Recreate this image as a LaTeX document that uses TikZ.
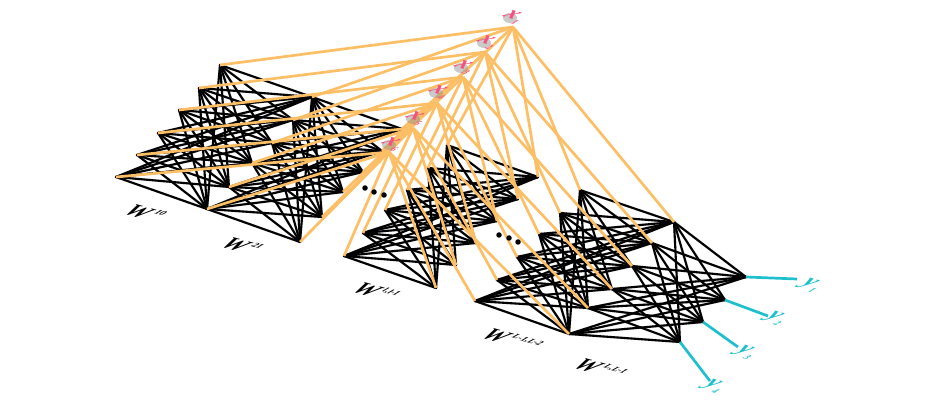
\documentclass[tikz,border=0pt]{standalone}
\usepackage{fontspec}
\setmainfont{Liberation Serif}
\definecolor{skip}{HTML}{FDBF66}
\definecolor{inp}{HTML}{F4527F}
\definecolor{outp}{HTML}{1FC0CE}
\definecolor{halo}{HTML}{8A8A8A}
\newcommand{\tinysc}[1]{\kern2.5pt\raisebox{.45em}{\fontsize{9}{9}\selectfont #1}}
\newcommand{\tinysb}[1]{\kern1.5pt\raisebox{-.25em}{\fontsize{9}{9}\selectfont #1}}
\tikzset{
  nd/.style={inner sep=0pt,minimum size=0pt,outer sep=0pt},
  edgeb/.style={black,line width=2.1pt,line cap=round},
  edgeh/.style={halo,line width=2.6pt,line cap=round,opacity=.3},
  skipl/.style={skip,line width=2.7pt},
  outl/.style={outp,line width=2.7pt},
  laba/.style={inner sep=0pt,transform shape,cm={1,-.28,.85,.62,(0,0)},font=\bfseries\itshape\fontsize{23}{23}\selectfont},
  dotn/.style={circle,fill=black,inner sep=0pt,minimum size=5.5pt},
  glow/.style={fill=halo,opacity=.45,draw=none},
}
\begin{document}
\begin{tikzpicture}[x=1pt,y=-1pt]
\useasboundingbox (0,0) rectangle (937,403);
% input nodes
\foreach \i/\x/\y in {6/513/27,5/485/52,4/463/77,3/437/103,2/413/128,1/389/152}
  \node[nd] (x\i) at (\x,\y) {};
% layers
\foreach \l/\pts in {
 a/{6/220/65,5/199/88,4/179/110,3/158/133,2/137/155,1/116/177},
 b/{6/312/97,5/293/120,4/272/143,3/252/163,2/229/187,1/207/209},
 c/{6/402/129,5/382/151,4/363/172,3/343/192,2/322/217,1/300/242},
 d/{6/447/145,5/428/168,4/407/190,3/385/210,2/363/233,1/344/256},
 e/{6/538/177,5/518/199,4/497/221,3/476/243,2/456/265,1/436/288},
 f/{6/580/190,5/560/213,4/539/234,3/517/257,2/497/280,1/475/301},
 g/{6/674/222,5/652/243,4/632/266,3/612/289,2/588/308,1/569/334}}{
  \foreach \i/\x/\y in \pts { \node[nd] (\l\i) at (\x,\y) {}; }
}
\foreach \i/\x/\y in {1/746/277,2/725/300,3/703/322,4/680/342}
  \node[nd] (h\i) at (\x,\y) {};
% free ends of outputs
\foreach \i/\x/\y in {1/797/279,2/768/316,3/738/347,4/710/381}
  \coordinate (o\i) at (\x,\y);
% shadows
\begin{scope}[shift={(1.2,2)}]
\foreach \p/\q in {a/b,b/c,d/e,f/g}
  \foreach \i in {1,...,6} \foreach \j in {1,...,6}
    \draw[edgeh] (\p\i) -- (\q\j);
\foreach \i in {1,...,6} \foreach \j in {1,...,4}
    \draw[edgeh] (g\i) -- (h\j);
\end{scope}
% black weights
\foreach \p/\q in {a/b,b/c,d/e,f/g}
  \foreach \i in {1,...,6} \foreach \j in {1,...,6}
    \draw[edgeb] (\p\i) -- (\q\j);
\foreach \i in {1,...,6} \foreach \j in {1,...,4}
    \draw[edgeb] (g\i) -- (h\j);
% skip connections
\foreach \i in {1,...,6} \foreach \l in {a,b,c,d,e,f,g}
    \draw[skipl] (x\i) -- (\l\i);
% outputs
\foreach \i in {1,...,4} \draw[outl] (h\i) -- (o\i);
% ellipses
\foreach \n/\x/\y in {p1/365/188,p2/374/192,p3/384/195,q1/499/235,q2/509/238,q3/518/242}
  \node[dotn] (\n) at (\x,\y) {};
% labels
\foreach \i/\k/\x/\y in {6/1/513/17,5/2/487/42,4/3/464/67,3/4/439/92,2/5/416/118,1/6/392/144}{
  \fill[glow] (\x-3,\y+1) ellipse [x radius=7,y radius=5];
  \node[laba,text=inp] (lx\i) at (\x,\y) {x\tinysb{\k}};
}
\foreach \i/\x/\y in {1/811/285,2/776/318,3/746/352,4/714/386}{
  \node[laba,text=outp] (ly\i) at (\x,\y) {y\tinysb{\i}};
}
\foreach \n/\x/\y/\t in {w1/145/213/{10},w2/242/246/{21},w3/376/292/{l,l-1},w4/512/340/{L-1,L-2},w5/600/369/{L,L-1}}{
  \node[laba,text=black] (\n) at (\x,\y) {W\tinysc{\t}};
}
\end{tikzpicture}
\end{document}
